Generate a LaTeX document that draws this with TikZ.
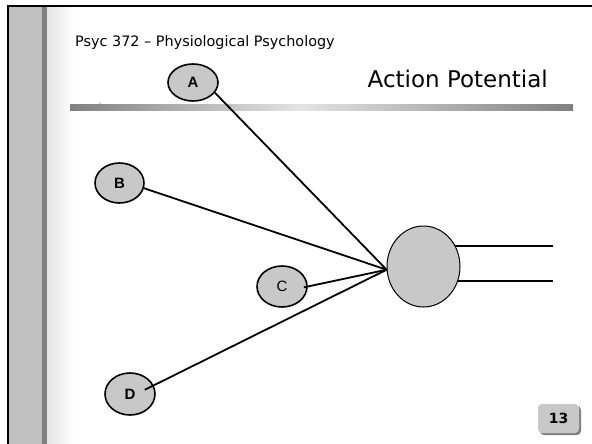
\documentclass[tikz,border=0pt]{standalone}
\usepackage{fontspec}
\setmainfont{DejaVu Sans}
\newfontfamily\labelfont{Liberation Sans}
\usetikzlibrary{shapes.geometric,shadows}
\definecolor{bandgray}{HTML}{C0C0C0}
\definecolor{rulegray}{HTML}{808080}
\definecolor{cellgray}{HTML}{C8C8C8}
\definecolor{palegray}{HTML}{E4E4E4}
\begin{document}
\begin{tikzpicture}[x=1pt,y=-1pt,
  cell/.style={ellipse, draw=black, line width=1.6pt, fill=cellgray, inner sep=0pt,
    font=\labelfont\fontsize{15}{15}\selectfont\bfseries},
  fiber/.style={line width=1.8pt, draw=black},
  pagebox/.style={fill=cellgray, rounded corners=4pt, inner sep=0pt,
    minimum width=41pt, minimum height=29pt,
    drop shadow={shadow xshift=2pt, shadow yshift=-2pt, fill=rulegray, opacity=1},
    font=\bfseries\fontsize{14}{14}\selectfont},
]
\useasboundingbox (0,0) rectangle (592,444);
\fill[white] (0,0) rectangle (592,444);

% slide frame: left band, rule and soft fade
\fill[bandgray] (9,7) rectangle (42,444);
\fill[rulegray] (42,7) rectangle (47,444);
\shade[left color=palegray, right color=white] (47,7) rectangle (74,444);
\fill[black] (6.5,5) rectangle (9,444);
\fill[black] (6.5,5) rectangle (592,7.5);

% header rule under the title
\shade[left color=rulegray, right color=palegray] (70,104.5) rectangle (300,110);
\shade[left color=palegray, right color=rulegray] (300,104.5) rectangle (573,110);
\fill[black!70] (100,103) circle (0.7pt);

% header texts
\node[anchor=base west, inner sep=0pt, font=\fontsize{14.4}{14.4}\selectfont] (course) at (75,47)
  {Psyc 372 – Physiological Psychology};
\node[anchor=base east, inner sep=0pt, font=\fontsize{23}{23}\selectfont] (title) at (548,88)
  {Action Potential};

% input cells and the receiving cell body
\node[cell, minimum width=50pt, minimum height=37pt] (A) at (193,82.5) {A};
\node[cell, minimum width=49pt, minimum height=40pt] (B) at (119.5,183) {B};
\node[cell, minimum width=50pt, minimum height=41pt, font=\labelfont\fontsize{15}{15}\selectfont] (C) at (282,286.5) {C};
\node[cell, minimum width=50pt, minimum height=42pt] (D) at (130,394) {D};
\node[ellipse, draw=black, line width=1pt, fill=cellgray, inner sep=0pt,
  minimum width=73pt, minimum height=81pt] (soma) at (423.5,266.5) {};

\coordinate (hub) at (soma.185);
\coordinate (axonend) at (553,0);

% converging inputs
\draw[fiber] (A.-25) -- (hub);
\draw[fiber] (B.-12) -- (hub);
\draw[fiber, shorten <=-4pt] (C.east) -- (hub);
\draw[fiber, shorten <=-10pt] (D.20) -- (hub);

% outgoing axon
\draw[fiber] (soma.33) -- (soma.33 -| axonend);
\draw[fiber] (soma.-23) -- (soma.-23 -| axonend);

% slide number
\node[pagebox] (pagenum) at (558.5,418.5) {13};
\end{tikzpicture}
\end{document}
